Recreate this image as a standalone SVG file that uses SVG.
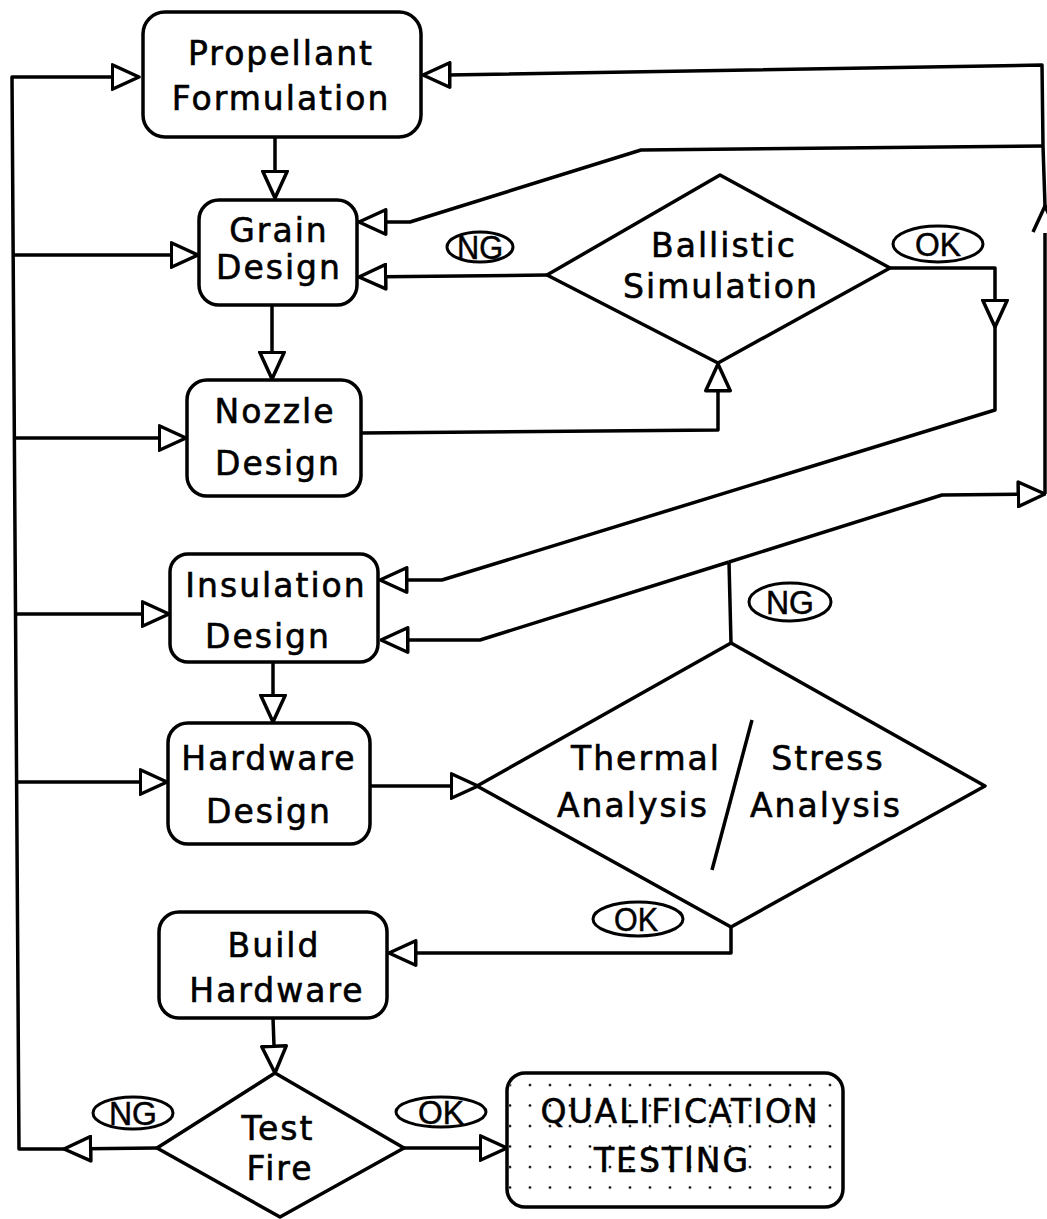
<svg xmlns="http://www.w3.org/2000/svg" width="1047" height="1219" viewBox="0 0 1047 1219">
<style>
  .box { fill: #fff; stroke: #000; stroke-width: 3.5; }
  .dia { fill: #fff; stroke: #000; stroke-width: 3.5; stroke-linejoin: round; }
  .ln { fill: none; stroke: #000; stroke-width: 3.5; stroke-linejoin: round; }
  .lbl { fill: #fff; stroke: #000; stroke-width: 3; }
  .t { font-family: "DejaVu Sans", "Liberation Sans", sans-serif; font-size: 33px; letter-spacing: 2px; text-anchor: middle; fill: #000; stroke: #000; stroke-width: 0.6; }
  .tl { font-family: "Liberation Sans", "DejaVu Sans", sans-serif; font-size: 34px; text-anchor: middle; fill: #000; stroke: #000; stroke-width: 0.5; }
</style>
<defs>
  <marker id="ah" viewBox="0 0 30 28" refX="28.5" refY="14" markerWidth="30" markerHeight="28" markerUnits="userSpaceOnUse" orient="auto">
    <path d="M1.75,1.75 L28.5,14 L1.75,26.25 Z" fill="#fff" stroke="#000" stroke-width="3.5" stroke-linejoin="round"/>
  </marker>
  <pattern id="dots" x="520" y="1075" width="20" height="20.5" patternUnits="userSpaceOnUse">
    <circle cx="10" cy="10" r="1.3" fill="#000"/>
  </pattern>
</defs>
<rect width="1047" height="1219" fill="#fff"/>

<g id="connectors">
  <!-- left feedback bus -->
  <path class="ln" d="M157,1148 L64,1149" marker-end="url(#ah)"/>
  <path class="ln" d="M64,1149 L19,1149 L12,77 L139,77" marker-end="url(#ah)"/>
  <path class="ln" d="M13,255 L198,255" marker-end="url(#ah)"/>
  <path class="ln" d="M14,438 L186,438" marker-end="url(#ah)"/>
  <path class="ln" d="M15,614 L169,614" marker-end="url(#ah)"/>
  <path class="ln" d="M16,782 L167,782" marker-end="url(#ah)"/>
  <!-- main flow -->
  <path class="ln" d="M275,137 L275,198" marker-end="url(#ah)"/>
  <path class="ln" d="M272,305 L272,379" marker-end="url(#ah)"/>
  <path class="ln" d="M361,433 L718,430 L718,364" marker-end="url(#ah)"/>
  <path class="ln" d="M547,275 L359,277" marker-end="url(#ah)"/>
  <path class="ln" d="M890,268 L995,268 L995,327" marker-end="url(#ah)"/>
  <path class="ln" d="M995,327 L995,410 L442,580 L380,580" marker-end="url(#ah)"/>
  <path class="ln" d="M731,643 L729,562"/>
  <path class="ln" d="M729,562 L480,640 L381,640" marker-end="url(#ah)"/>
  <path class="ln" d="M729,562 L942,495 L1045,494" marker-end="url(#ah)"/>
  <path class="ln" d="M1045,494 L1045,233"/>
  <path class="ln" d="M1033,232 L1045,206 L1057,232"/>
  <path class="ln" d="M1045,206 L1043,146"/>
  <path class="ln" d="M1043,146 L1042,65 L448,75 L423,75" marker-end="url(#ah)"/>
  <path class="ln" d="M1043,146 L641,150 L410,222 L359,222" marker-end="url(#ah)"/>
  <path class="ln" d="M273,662 L273,722" marker-end="url(#ah)"/>
  <path class="ln" d="M370,786 L478,786" marker-end="url(#ah)"/>
  <path class="ln" d="M731,927 L731,953 L389,953" marker-end="url(#ah)"/>
  <path class="ln" d="M273,1018 L275,1073" marker-end="url(#ah)"/>
  <path class="ln" d="M404,1148 L507,1148" marker-end="url(#ah)"/>
</g>

<g id="propellant">
  <rect class="box" x="143" y="12" width="278" height="125" rx="22"/>
  <text class="t" x="281" y="65">Propellant</text>
  <text class="t" x="281" y="110">Formulation</text>
</g>
<g id="grain">
  <rect class="box" x="199" y="200" width="158" height="105" rx="20"/>
  <text class="t" x="279" y="242">Grain</text>
  <text class="t" x="279" y="279">Design</text>
</g>
<g id="nozzle">
  <rect class="box" x="187" y="380" width="174" height="116" rx="20"/>
  <text class="t" x="275" y="423">Nozzle</text>
  <text class="t" x="278" y="475">Design</text>
</g>
<g id="insulation">
  <rect class="box" x="170" y="554" width="208" height="108" rx="18"/>
  <text class="t" x="276" y="597">Insulation</text>
  <text class="t" x="268" y="648">Design</text>
</g>
<g id="hardware">
  <rect class="box" x="168" y="723" width="202" height="121" rx="20"/>
  <text class="t" x="269" y="770">Hardware</text>
  <text class="t" x="269" y="823">Design</text>
</g>
<g id="build">
  <rect class="box" x="159" y="912" width="228" height="106" rx="20"/>
  <text class="t" x="274" y="957">Build</text>
  <text class="t" x="277" y="1002">Hardware</text>
</g>
<g id="ballistic">
  <polygon class="dia" points="547,275 720,175 890,268 718,363"/>
  <text class="t" x="724" y="257">Ballistic</text>
  <text class="t" x="721" y="298">Simulation</text>
</g>
<g id="thermal-stress">
  <polygon class="dia" points="477,786 731,643 985,786 731,927"/>
  <line class="ln" x1="752" y1="720" x2="712" y2="870" stroke-width="2.5"/>
  <text class="t" x="646" y="770">Thermal</text>
  <text class="t" x="633" y="817">Analysis</text>
  <text class="t" x="828" y="770">Stress</text>
  <text class="t" x="826" y="817">Analysis</text>
</g>
<g id="testfire">
  <polygon class="dia" points="157,1148 275,1073 404,1148 280,1217"/>
  <text class="t" x="278" y="1140">Test</text>
  <text class="t" x="280" y="1180">Fire</text>
</g>
<g id="qualification">
  <rect class="box" x="507" y="1073" width="336" height="134" rx="18"/>
  <rect x="509" y="1075" width="332" height="130" rx="16" fill="url(#dots)"/>
  <text class="t" x="680" y="1123">QUALIFICATION</text>
  <text class="t" x="672" y="1172">TESTING</text>
</g>

<g id="labels">
  <g id="ng-ballistic">
    <ellipse class="lbl" cx="480" cy="247" rx="33" ry="15"/>
    <text class="tl" x="480" y="259" textLength="46" lengthAdjust="spacingAndGlyphs">NG</text>
  </g>
  <g id="ok-ballistic">
    <ellipse class="lbl" cx="938" cy="244" rx="45" ry="18"/>
    <text class="tl" x="938" y="256" textLength="46" lengthAdjust="spacingAndGlyphs">OK</text>
  </g>
  <g id="ng-thermal">
    <ellipse class="lbl" cx="790" cy="602" rx="41" ry="19"/>
    <text class="tl" x="790" y="614" textLength="48" lengthAdjust="spacingAndGlyphs">NG</text>
  </g>
  <g id="ok-thermal">
    <ellipse class="lbl" cx="638" cy="919" rx="45" ry="17"/>
    <text class="tl" x="636" y="931" textLength="44" lengthAdjust="spacingAndGlyphs">OK</text>
  </g>
  <g id="ng-test">
    <ellipse class="lbl" cx="133" cy="1113" rx="40" ry="16"/>
    <text class="tl" x="133" y="1125" textLength="48" lengthAdjust="spacingAndGlyphs">NG</text>
  </g>
  <g id="ok-test">
    <ellipse class="lbl" cx="441" cy="1112" rx="45" ry="15"/>
    <text class="tl" x="441" y="1124" textLength="46" lengthAdjust="spacingAndGlyphs">OK</text>
  </g>
</g>
</svg>
